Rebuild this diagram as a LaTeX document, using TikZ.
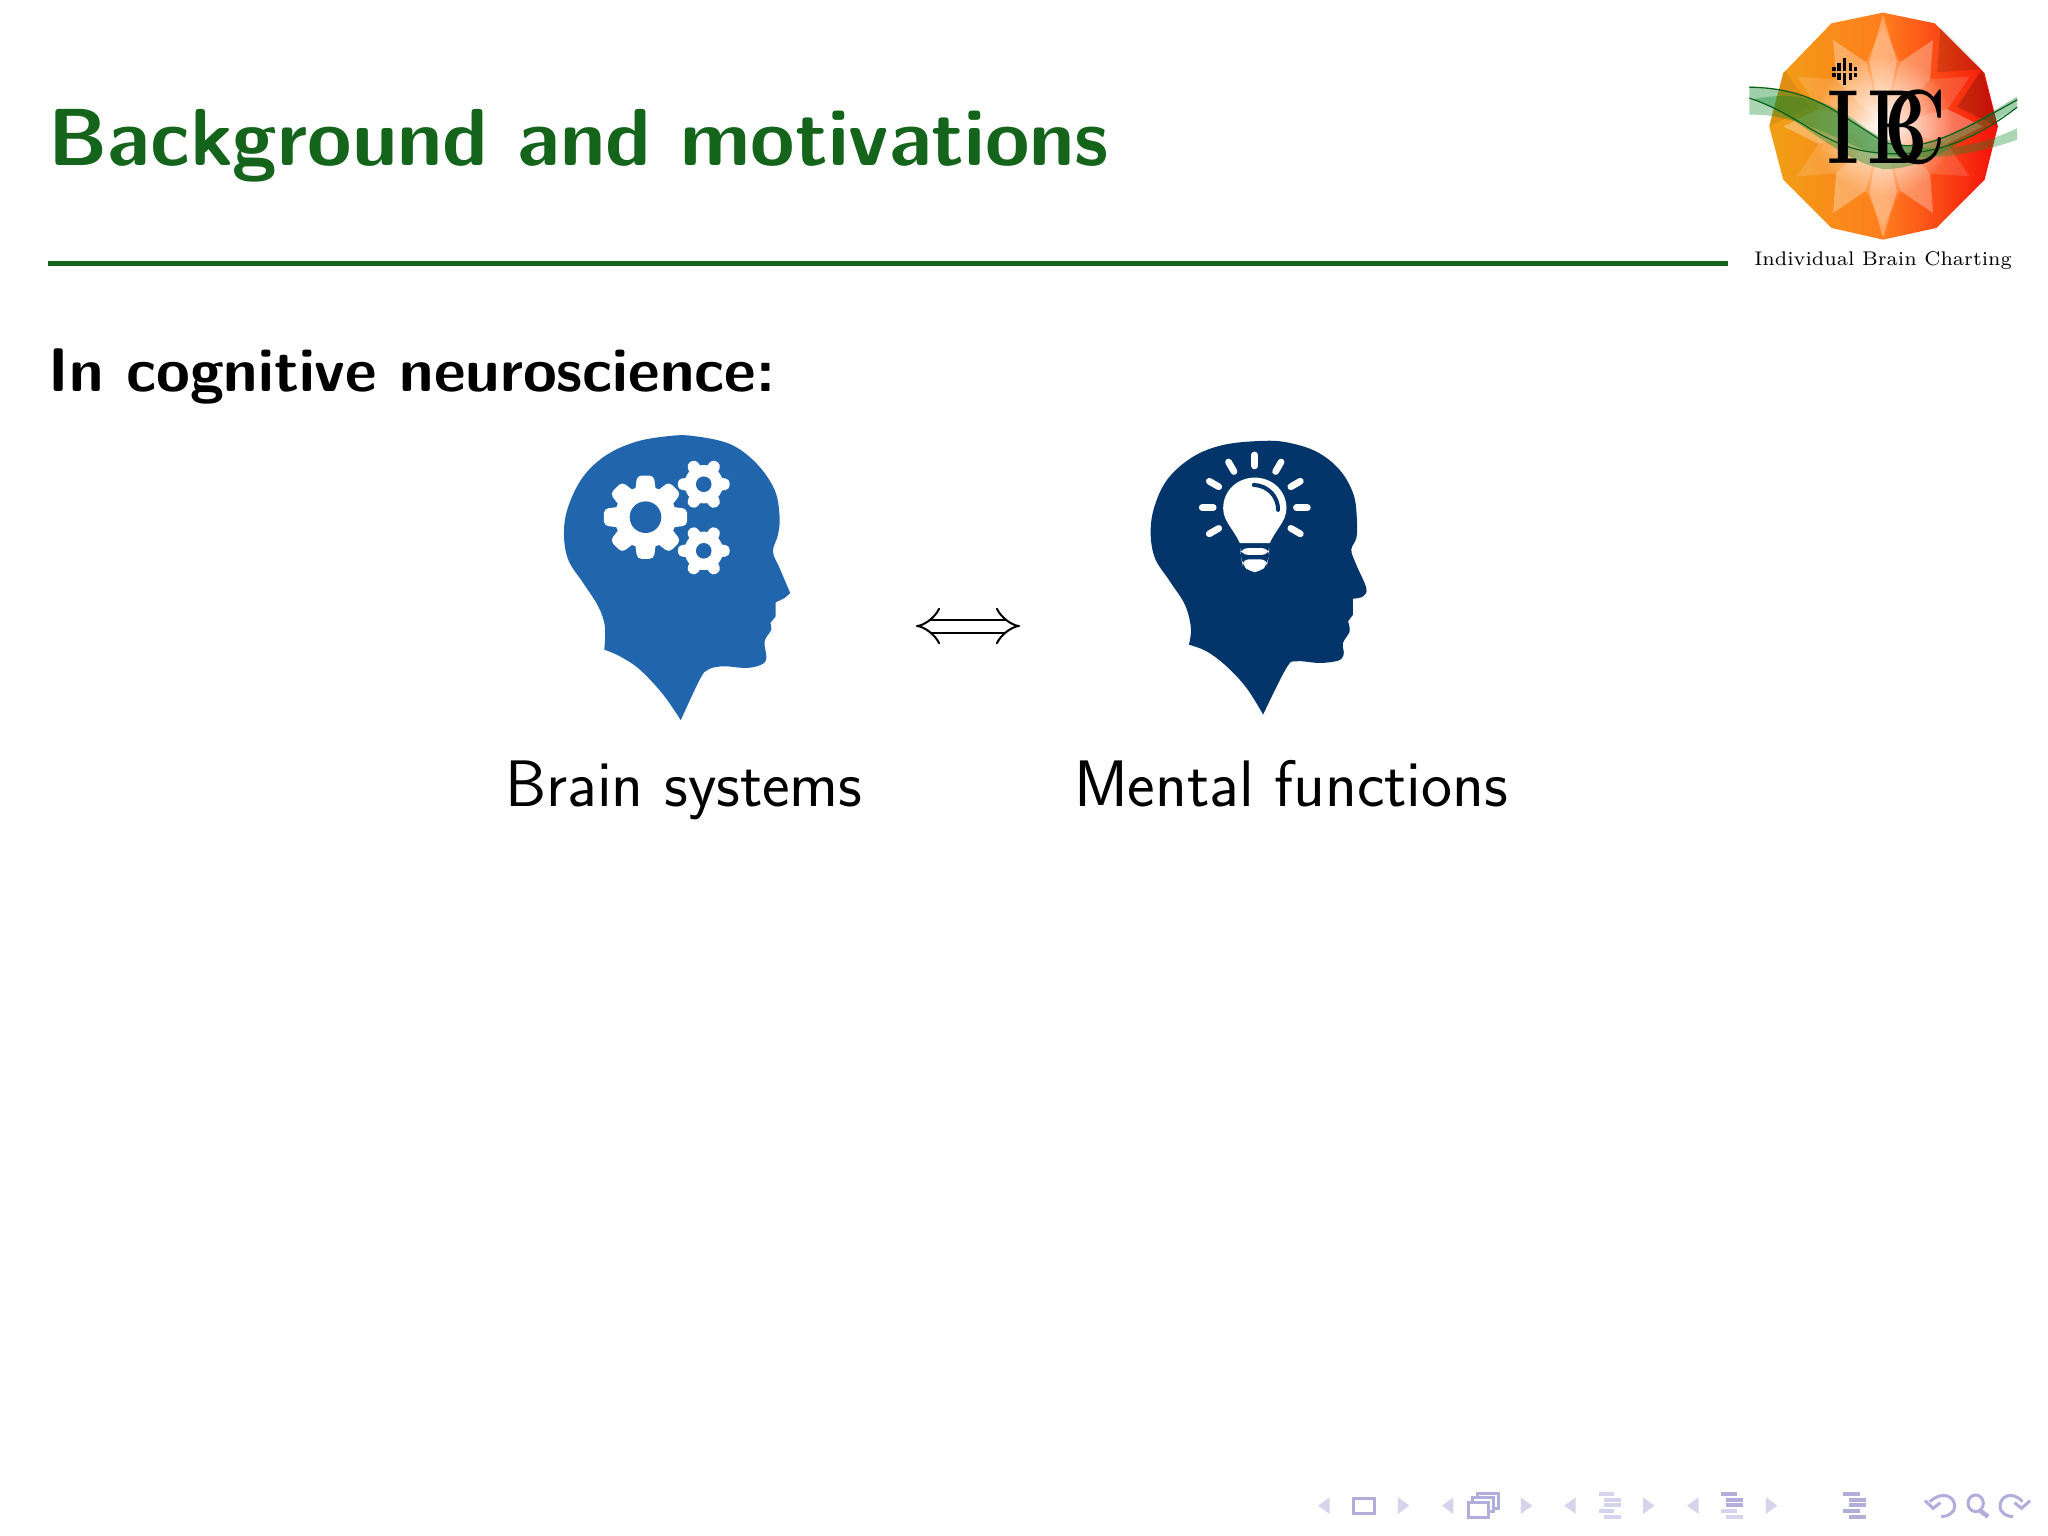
\documentclass[tikz,border=0pt]{standalone}
\usepackage{xcolor}
\usepackage{tikz}
\usetikzlibrary{positioning,arrows.meta,calc,fadings}
\definecolor{titlegreen}{RGB}{20,100,28}
\definecolor{gearblue}{RGB}{33,102,172}
\definecolor{bulbnavy}{RGB}{3,53,107}
\definecolor{navdark}{RGB}{178,174,220}
\definecolor{navpale}{RGB}{214,212,236}
\definecolor{wave}{RGB}{15,135,40}
\definecolor{logoamber}{RGB}{240,160,20}
\definecolor{logoorange}{RGB}{255,125,30}
\definecolor{logored}{RGB}{245,15,10}
\tikzfading[name=logoglow, inner color=transparent!0, outer color=transparent!100]
\newcommand{\gearicon}[5]{%
	\fill[white] (#1,#2) circle (#3*0.74);
	\foreach \t in {1,...,#4}
		\fill[white, rounded corners=1.2pt, rotate around={360*\t/#4:(#1,#2)}]
			(#1+#3*0.55,#2-#3*0.26) -- (#1+#3,#2-#3*0.2) -- (#1+#3,#2+#3*0.2) -- (#1+#3*0.55,#2+#3*0.26) -- cycle;
	\fill[gearblue] (#1,#2) circle (#3*#5);
}
\begin{document}
\begin{tikzpicture}[x=0.01cm, y=-0.01cm,
		titletext/.style={font=\fontsize{23}{27}\selectfont\sffamily\bfseries, text=titlegreen, anchor=base west, inner sep=0pt},
		headtext/.style={font=\fontsize{17.5}{20}\selectfont\sffamily\bfseries, anchor=base west, inner sep=0pt},
		captiontext/.style={font=\fontsize{18.7}{22}\selectfont\sffamily, anchor=base, inner sep=0pt},
		ray/.style={white, line width=0.067cm, line cap=round},
		navtri/.style={fill=navpale},
		navbox/.style={draw=navdark, line width=0.03cm},
		navbar/.style={navdark, line width=0.04cm},
		navbarpale/.style={navpale, line width=0.04cm}]
	\useasboundingbox (0,0) rectangle (2048,1536);
	\fill[white] (0,0) rectangle (2048,1536);
	\node[titletext] (title) at (48,165) {Background and motivations};
	\coordinate (ruleleft) at (48,263);
	\coordinate (ruleright) at (1728,263);
	\draw[titlegreen, line width=0.05cm] (ruleleft) -- (ruleright);
	\node[headtext] (heading) at (48,391) {In cognitive neuroscience:};
	\begin{scope}[shift={(540,420)}, x=0.00333cm, y=-0.00333cm]
		\fill[gearblue] plot[smooth, tension=0.6] coordinates {(193,690) (240,710) (300,750) (370,825) (423,902)}
			-- plot[smooth, tension=0.6] coordinates {(423,902) (480,780) (505,750) (550,740) (620,745) (665,735) (680,715) (675,665) (695,630) (692,610)}
			-- (708,590) -- (708,548) -- (735,535) -- (752,520)
			-- plot[smooth, tension=0.6] coordinates {(752,520) (720,445) (700,395) (715,345) (720,290) (705,210) (650,130) (570,72) (460,48) (390,48) (290,65) (200,105) (130,170) (85,260) (72,340) (85,420) (130,490) (175,560) (195,620) (193,690)} -- cycle;
		\gearicon{317}{292}{125}{8}{0.38}
		\gearicon{492}{193}{78}{6}{0.3}
		\gearicon{492}{393}{78}{6}{0.3}
	\end{scope}
	\begin{scope}[shift={(1130,425)}, x=0.00333cm, y=-0.00333cm]
		\fill[bulbnavy] plot[smooth, tension=0.6] coordinates {(177,660) (230,680) (290,725) (350,790) (400,870)}
			-- plot[smooth, tension=0.6] coordinates {(400,870) (470,730) (500,710) (570,715) (625,708) (642,690) (640,655) (660,620) (655,590)}
			-- (670,570) -- (670,522)
			-- plot[smooth, tension=0.6] coordinates {(670,522) (700,515) (710,490) (680,420) (665,375) (680,340) (682,290) (672,210) (630,135) (560,80) (470,52) (390,48) (280,60) (190,95) (115,160) (75,240) (62,320) (75,400) (120,470) (165,540) (183,610) (177,660)} -- cycle;
		\foreach \a in {0,30,150,180,210,240,270,300,330}
			\draw[ray] ($(375,248)+(\a:125)$) -- ($(375,248)+(\a:158)$);
		\fill[white] (330,355) .. controls (310,310) and (280,290) .. (280,250)
			.. controls (280,195) and (325,158) .. (375,158)
			.. controls (425,158) and (470,195) .. (470,250)
			.. controls (470,290) and (440,310) .. (420,355) -- cycle;
		\draw[bulbnavy, line width=0.04cm, line cap=round] (372,180) .. controls (415,182) and (445,215) .. (445,255);
		\fill[white, rounded corners=2pt] (332,370) rectangle (418,390);
		\fill[white, rounded corners=2pt] (335,404) -- (415,404) -- (412,418) -- (392,442) -- (358,442) -- (338,418) -- cycle;
	\end{scope}
	\coordinate (arrowleft) at (916,626);
	\coordinate (arrowright) at (1020,626);
	\draw[double, double distance=0.11cm, line width=0.02cm, {Implies}-{Implies}] (arrowleft) -- (arrowright);
	\node[captiontext] (brainlabel) at (684,806) {Brain systems};
	\node[captiontext] (mentallabel) at (1291,806) {Mental functions};
	\begin{scope}[shift={(1720,0)}, x=0.00333cm, y=-0.00333cm]
		\path[left color=logoamber, right color=logored, middle color=logoorange]
			(490,38) -- (645,70) -- (795,220) -- (835,380) -- (795,540) -- (650,685) -- (490,720) -- (335,685) -- (190,540) -- (148,380) -- (190,220) -- (335,70) -- cycle;
		\begin{scope}[shift={(490,380)}]
			\foreach \a/\op in {0/0.3,30/0.14,60/0.3,90/0.14,120/0.3,150/0.14,180/0.3,210/0.14,240/0.3,270/0.14,300/0.3,330/0.14}
				\fill[white, opacity=\op] (0,0) -- (\a-15:200) -- (\a:300) -- (\a+15:200) -- cycle;
			\foreach \a in {90,270}
				\fill[white, opacity=0.3] (0,0) -- (\a-12:200) -- (\a:335) -- (\a+12:200) -- cycle;
			\fill[white, path fading=logoglow] (0,0) circle (210);
			\fill[black, opacity=0.2] (-30:344) -- (0:344) -- (-15:230) -- cycle;
			\fill[black, opacity=0.14] (-60:344) -- (-30:344) -- (-45:230) -- cycle;
			\fill[black, opacity=0.08] (-150:344) -- (-180:344) -- (-165:230) -- cycle;
		\end{scope}
		\foreach \bx/\bt/\bb in {342/200/230, 358/188/240, 375/175/255, 392/188/240, 408/200/230} {
			\fill[black] (\bx-5,\bt) rectangle (\bx+5,212);
			\fill[black] (\bx-5,219) rectangle (\bx+5,\bb);
		}
		\fill[wave, opacity=0.4] (88,260) .. controls (280,265) and (350,340) .. (490,425)
			.. controls (600,470) and (730,390) .. (893,290)
			-- (893,322) .. controls (730,420) and (620,510) .. (490,508)
			.. controls (350,480) and (230,340) .. (88,295) -- cycle;
		\fill[wave, opacity=0.35] (88,300) .. controls (230,270) and (330,300) .. (430,380)
			.. controls (540,460) and (720,470) .. (893,385)
			-- (893,420) .. controls (720,480) and (540,490) .. (430,450)
			.. controls (300,390) and (200,340) .. (88,345) -- cycle;
		\draw[wave!70!black, line width=0.012cm] (88,295) .. controls (230,340) and (300,430) .. (440,455) .. controls (600,480) and (740,440) .. (893,322);
		\draw[wave!70!black, line width=0.012cm] (88,262) .. controls (280,265) and (350,340) .. (490,425) .. controls (600,470) and (730,390) .. (893,300);
		\node[font=\fontsize{30}{32}\selectfont\bfseries, inner sep=0pt, xscale=0.72, transform shape] (ibcmark) at (502,382) {I\kern3pt B\kern-17pt C};
		\node[font=\fontsize{7.2}{9}\selectfont, inner sep=0pt, anchor=base, scale=0.78, transform shape] (ibcname) at (490,799) {Individual Brain Charting};
	\end{scope}
	\begin{scope}[shift={(1300,1480)}, x=0.00477cm, y=-0.00333cm]
		\foreach \tx in {38,297,553,810}
			\fill[navtri] (\tx,77) -- (\tx+24,52) -- (\tx+24,102) -- cycle;
		\foreach \tx in {205,462,718,975}
			\fill[navtri] (\tx+24,77) -- (\tx,52) -- (\tx,102) -- cycle;
		\draw[navbox] (112,55) rectangle (155,100);
		\draw[navbox] (372,42) rectangle (415,85);
		\fill[white] (362,53) rectangle (405,96);
		\draw[navbox] (362,53) rectangle (405,96);
		\fill[white] (352,68) rectangle (395,113);
		\draw[navbox] (352,68) rectangle (395,113);
		\foreach \ly/\lx/\ex in {42/625/658, 60/636/672, 76/636/672, 93/625/658, 111/636/672}
			\draw[navbarpale] (\lx,\ly) -- (\ex,\ly);
		\foreach \ly/\lx/\ex in {42/880/915, 60/892/928, 76/892/928}
			\draw[navbar] (\lx,\ly) -- (\ex,\ly);
		\foreach \ly/\lx/\ex in {93/880/915, 111/892/928}
			\draw[navbarpale] (\lx,\ly) -- (\ex,\ly);
		\foreach \ly/\lx/\ex in {42/1137/1172, 60/1148/1184, 76/1148/1184, 93/1137/1172, 111/1148/1184}
			\draw[navbar] (\lx,\ly) -- (\ex,\ly);
		\draw[navbox] (1318,65) .. controls (1345,30) and (1370,50) .. (1370,78) .. controls (1370,100) and (1355,110) .. (1342,110);
		\draw[navbox] (1308,62) -- (1325,85) -- (1340,68);
		\draw[navbox] (1414,70) ellipse (16 and 25);
		\draw[navbox, line width=0.045cm] (1423,92) -- (1440,110);
		\draw[navbox] (1512,65) .. controls (1490,30) and (1465,50) .. (1465,78) .. controls (1465,100) and (1480,110) .. (1492,110);
		\draw[navbox] (1528,62) -- (1510,85) -- (1495,68);
	\end{scope}
\end{tikzpicture}
\end{document}
